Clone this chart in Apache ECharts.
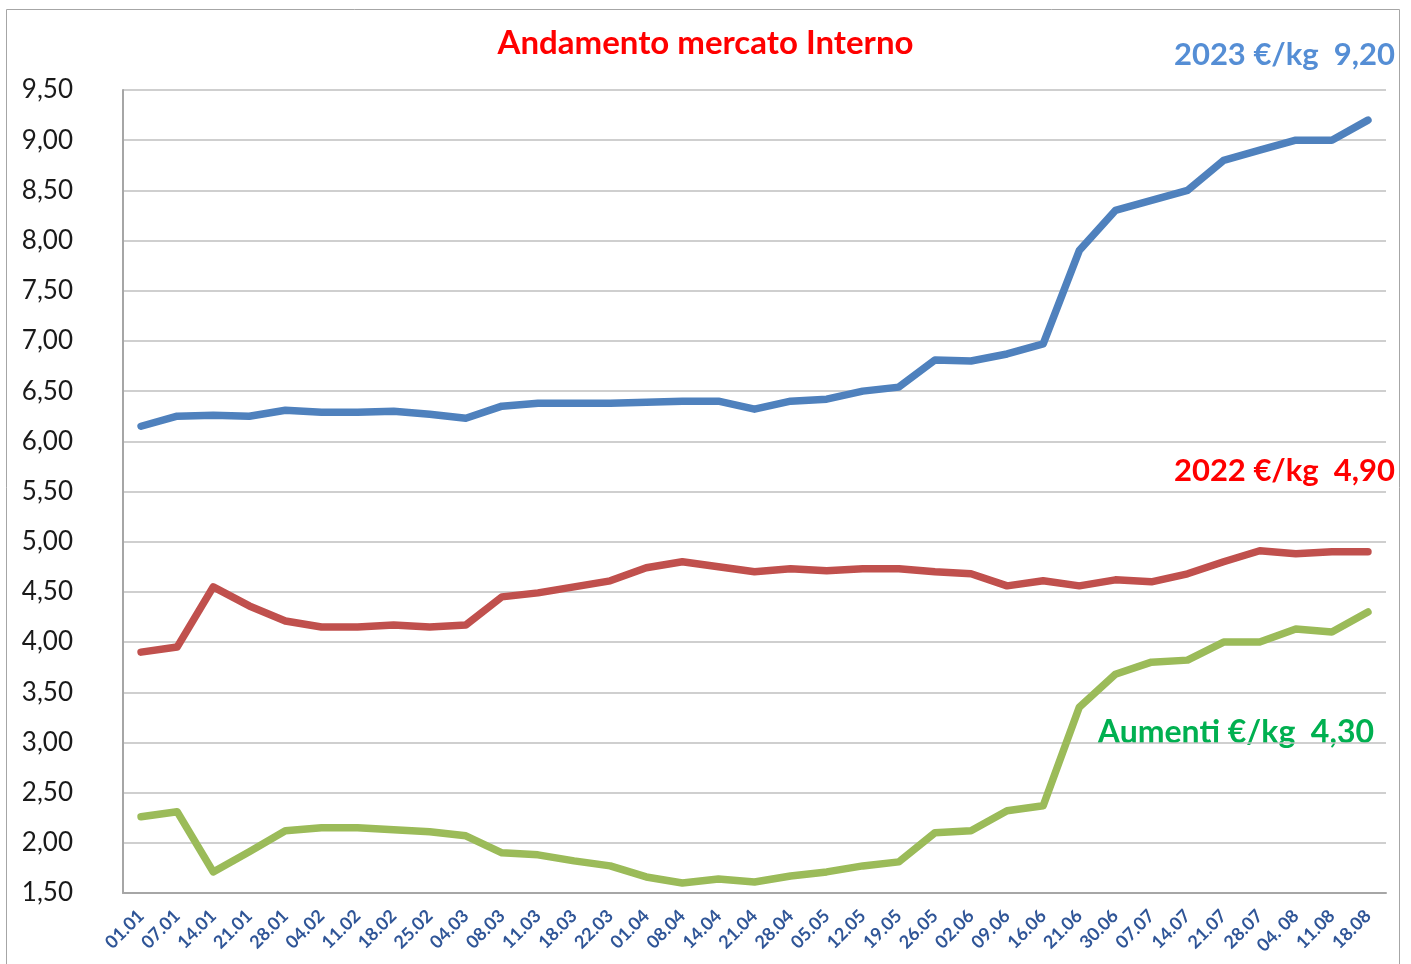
<!DOCTYPE html>
<html>
<head>
<meta charset="utf-8">
<title>Andamento mercato Interno</title>
<script src="https://cdn.jsdelivr.net/npm/echarts@6/dist/echarts.min.js"></script>
<style>
    html, body { margin: 0; padding: 0; background: #fff; }
    #chart { width: 1411px; height: 964px; }
</style>
</head>
<body>
<div id="chart"></div>
<script>
// settimane (asse x)
var weeks = ['01.01', '07.01', '14.01', '21.01', '28.01', '04.02', '11.02', '18.02', '25.02', '04.03',
    '08.03', '11.03', '18.03', '22.03', '01.04', '08.04', '14.04', '21.04', '28.04', '05.05',
    '12.05', '19.05', '26.05', '02.06', '09.06', '16.06', '21.06', '30.06', '07.07', '14.07',
    '21.07', '28.07', '04. 08', '11.08', '18.08']

// prezzi 2023 €/kg
var prezzi2023 = [6.15, 6.25, 6.26, 6.25, 6.31, 6.29, 6.29, 6.30, 6.27, 6.23,
    6.35, 6.38, 6.38, 6.38, 6.39, 6.40, 6.40, 6.32, 6.40, 6.42,
    6.50, 6.54, 6.81, 6.80, 6.87, 6.97, 7.90, 8.30, 8.40, 8.50,
    8.80, 8.90, 9.00, 9.00, 9.20]

// prezzi 2022 €/kg
var prezzi2022 = [3.90, 3.95, 4.55, 4.36, 4.21, 4.15, 4.15, 4.17, 4.15, 4.17,
    4.45, 4.49, 4.55, 4.61, 4.74, 4.80, 4.75, 4.70, 4.73, 4.71,
    4.73, 4.73, 4.70, 4.68, 4.56, 4.61, 4.56, 4.62, 4.60, 4.68,
    4.80, 4.91, 4.88, 4.90, 4.90]

// aumenti €/kg
var aumenti = [2.26, 2.31, 1.71, 1.91, 2.12, 2.15, 2.15, 2.13, 2.11, 2.07,
    1.90, 1.88, 1.82, 1.77, 1.66, 1.60, 1.64, 1.61, 1.67, 1.71,
    1.77, 1.81, 2.10, 2.12, 2.32, 2.37, 3.35, 3.68, 3.80, 3.82,
    4.00, 4.00, 4.13, 4.10, 4.30]

// etichette
var titolo = 'Andamento mercato Interno'
var etichetta2023 = '2023 €/kg  9,20'
var etichetta2022 = '2022 €/kg  4,90'
var etichettaAumenti = 'Aumenti €/kg  4,30'

var font = 'Lato, "Open Sans", sans-serif'

function lineSeries (name, data, color) {
    return {
        name: name,
        type: 'line',
        data: data,
        symbol: 'none',
        lineStyle: { color: color, width: 7.5, cap: 'round', join: 'round' },
        itemStyle: { color: color }
    }
}

var myChart = echarts.init(document.getElementById('chart'))
var option = {
    animation: false,
    backgroundColor: '#fff',
    title: {
        text: titolo,
        left: 'center',
        top: 22,
        textStyle: { color: '#ff0000', fontSize: 33, fontWeight: 'bold', fontFamily: font }
    },
    graphic: [
        {   // cornice esterna
            type: 'rect',
            shape: { x: 6.5, y: 9.5, width: 1393, height: 970 },
            style: { fill: null, stroke: '#a6a6a6', lineWidth: 1 },
            silent: true
        },
        {
            type: 'text', right: 16, top: 39,
            style: { text: etichetta2023, fill: '#558ed5', fontSize: 31, fontWeight: 'bold', fontFamily: font }
        },
        {
            type: 'text', right: 16, top: 455,
            style: { text: etichetta2022, fill: '#ff0000', fontSize: 31, fontWeight: 'bold', fontFamily: font }
        },
        {
            type: 'text', right: 37, top: 717,
            style: { text: etichettaAumenti, fill: '#00b050', fontSize: 32, fontWeight: 'bold', fontFamily: font }
        }
    ],
    grid: {
        left: 123,
        right: 25,
        top: 90,
        bottom: 71
    },
    xAxis: {
        type: 'category',
        data: weeks,
        boundaryGap: true,
        axisTick: { show: false },
        axisLine: { lineStyle: { color: '#a6a6a6', width: 2 } },
        axisLabel: {
            interval: 0,
            rotate: 45,
            margin: 20,
            color: '#2f5597',
            fontSize: 18,
            fontWeight: 'bold',
            fontFamily: font
        }
    },
    yAxis: {
        type: 'value',
        min: 1.5,
        max: 9.5,
        interval: 0.5,
        axisLine: { show: true, lineStyle: { color: '#a6a6a6', width: 2 } },
        axisTick: { show: false },
        splitLine: { lineStyle: { color: '#bfbfbf', width: 1.5 } },
        axisLabel: {
            margin: 50,
            color: '#1a1a1a',
            fontSize: 26,
            fontFamily: font,
            formatter: function (v) { return v.toFixed(2).replace('.', ',') }
        }
    },
    series: [
        lineSeries('2023', prezzi2023, '#4f81bd'),
        lineSeries('2022', prezzi2022, '#c0504d'),
        lineSeries('Aumenti', aumenti, '#9bbb59')
    ]
}
myChart.setOption(option)
</script>
</body>
</html>
